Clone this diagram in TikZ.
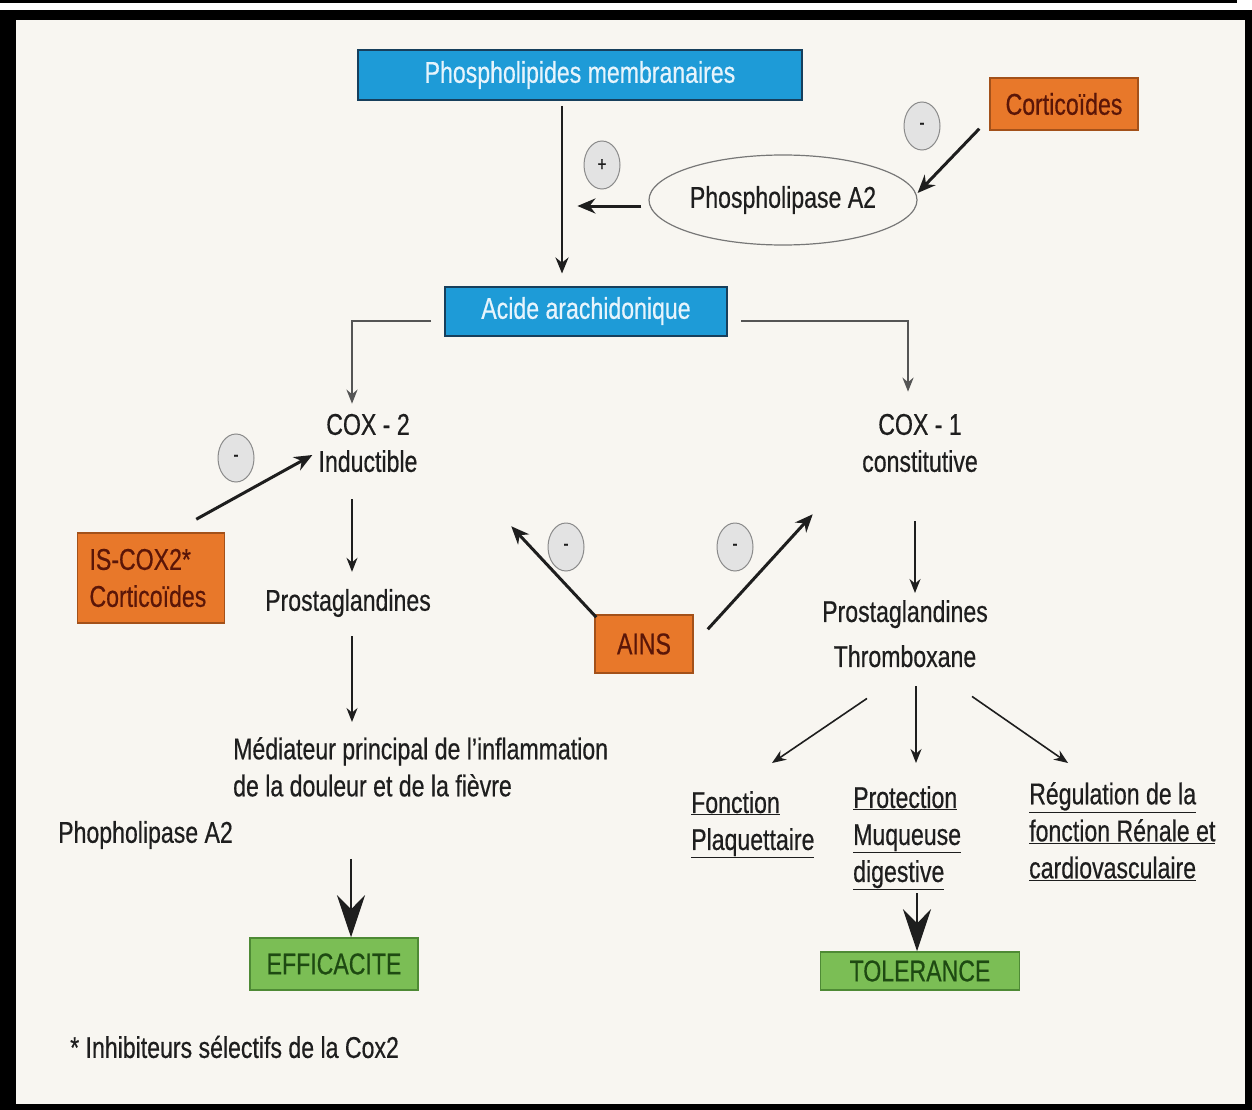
\documentclass[tikz,border=0pt]{standalone}
\usepackage{fontspec}
\setmainfont{Liberation Sans}[FakeStretch=0.77,FakeBold=0.5]
\usetikzlibrary{arrows.meta,shapes.geometric,calc}
\definecolor{bg}{HTML}{F8F6F1}
\definecolor{txtcol}{HTML}{1E1E1E}
\definecolor{blue1}{HTML}{1E9BD7}
\definecolor{bluedark}{HTML}{173F5C}
\definecolor{bluetext}{HTML}{E6F4FC}
\definecolor{or1}{HTML}{E8782A}
\definecolor{orborder}{HTML}{A3511A}
\definecolor{ortext}{HTML}{5A1608}
\definecolor{gr1}{HTML}{7BBE55}
\definecolor{grborder}{HTML}{4E8A35}
\definecolor{grtext}{HTML}{1E4A12}
\definecolor{signfill}{HTML}{E3E3E3}
\definecolor{signborder}{HTML}{8A8A8A}
\definecolor{gray1}{HTML}{555555}
\definecolor{ellgray}{HTML}{777777}
\begin{document}
\begin{tikzpicture}[x=1pt,y=-1pt,
  txt/.style={inner sep=0pt, text=txtcol, font=\fontsize{30}{37}\selectfont},
  boxbase/.style={inner sep=0pt, font=\fontsize{30}{37}\selectfont, line width=1.5pt},
  bluebox/.style={boxbase, draw=bluedark, fill=blue1, text=bluetext, line width=2pt},
  orbox/.style={boxbase, draw=orborder, fill=or1, text=ortext},
  grbox/.style={boxbase, draw=grborder, fill=gr1, text=grtext},
  sign/.style={ellipse, draw=signborder, fill=signfill, line width=1pt, minimum width=36pt, minimum height=48pt, inner sep=0pt, font=\fontsize{20}{20}\selectfont, text=txtcol},
  arr/.style={line width=1.6pt, draw=txtcol, -{Stealth[length=14pt,width=11pt]}},
  garr/.style={line width=2.5pt, draw=gray1, -{Stealth[length=14pt,width=11pt,fill=txtcol]}},
  thickarr/.style={line width=3pt, draw=txtcol, -{Stealth[length=18pt,width=15pt]}},
  vline/.style={line width=2.8pt, draw=txtcol, -{Stealth[length=16pt,width=13pt]}},
  bigarr/.style={line width=2pt, draw=txtcol, -{Stealth[length=42pt,width=28pt,inset=14pt]}}
]
\useasboundingbox (0,0) rectangle (1252,1110);
\fill[black] (0,0) rectangle (1237,3);
\fill[black] (0,10) rectangle (1252,1110);
\fill[bg] (16,20) rectangle (1245,1104);

% nodes
\node[bluebox, minimum width=444pt, minimum height=50pt] (phos) at (580,75) {Phospholipides membranaires};
\node[orbox, minimum width=148pt, minimum height=52pt] (cort) at (1064,104) {Corticoïdes};
\node[ellipse, draw=ellgray, fill=bg, line width=1.2pt, minimum width=268pt, minimum height=90pt, inner sep=0pt, text=txtcol, font=\fontsize{30}{37}\selectfont] (pla2) at (783,200) {Phospholipase A2};
\node[sign] (s1) at (922,126) {-};
\node[sign] (s2) at (602,165) {+};
\node[bluebox, minimum width=282pt, minimum height=49pt] (acide) at (586,311) {Acide arachidonique};
\node[txt, align=center] (cox2) at (368,443) {COX - 2\\Inductible};
\node[txt, align=center] (cox1) at (920,443) {COX - 1\\constitutive};
\node[sign] (s3) at (236,458) {-};
\node[orbox, align=left, text width=123pt, minimum height=90pt, inner xsep=12pt] (iscox) at (151,578) {IS-COX2*\\Corticoïdes};
\node[txt] (pg2) at (348,603) {Prostaglandines};
\node[txt, align=left, anchor=north west] (med) at (233,737) {Médiateur principal de l'inflammation\\de la douleur et de la fièvre};
\node[txt, anchor=west] (phopho) at (58,835) {Phopholipase A2};
\node[orbox, minimum width=98pt, minimum height=58pt] (ains) at (644,644) {AINS};
\node[sign] (s4) at (566,547) {-};
\node[sign] (s5) at (735,547) {-};
\node[txt, align=center, anchor=north] (pg1) at (905,600) {Prostaglandines\\[8pt]Thromboxane};
\node[txt, align=left, anchor=north west] (fonc) at (691,791) {\underline{Fonction}\\\underline{Plaquettaire}};
\node[txt, align=left, anchor=north west] (prot) at (853,786) {\underline{Protection}\\\underline{Muqueuse}\\\underline{digestive}};
\node[txt, align=left, anchor=north west] (regu) at (1029,782) {\underline{Régulation de la}\\\underline{fonction Rénale et}\\\underline{cardiovasculaire}};
\node[grbox, minimum width=168pt, minimum height=52pt] (eff) at (334,964) {EFFICACITE};
\node[grbox, minimum width=199pt, minimum height=38pt] (tol) at (920,971) {TOLERANCE};
\node[txt, anchor=west] (foot) at (70,1047) {* Inhibiteurs sélectifs de la Cox2};

% connectors
\draw[vline, shorten <=5pt] ([xshift=-18pt]phos.south) -- ([xshift=-24pt,yshift=12pt]acide.north);
\draw[thickarr] ([xshift=-7pt,yshift=-6pt]pla2.west) -- ++(-64,0);
\draw[thickarr] ([xshift=-10pt,yshift=2pt]cort.south west) -- ([yshift=7pt]pla2.east);
\draw[garr, shorten <=13pt] ([yshift=-10pt]acide.west) -| ([xshift=-16pt,yshift=10pt]cox2.north);
\draw[garr, shorten <=13pt] ([yshift=-10pt]acide.east) -| ([xshift=-12pt,yshift=22pt]cox1.north);
\draw[arr] ([xshift=-16pt,yshift=-27pt]cox2.south) -- ([xshift=4pt,yshift=17pt]pg2.north);
\draw[arr] ([xshift=4pt,yshift=-19pt]pg2.south) -- ([xshift=119pt,yshift=15pt]med.north west);
\draw[bigarr] ([xshift=118pt,yshift=-62pt]med.south west) -- ([xshift=17pt]eff.north);
\draw[arr] ([xshift=-5pt,yshift=-49pt]cox1.south) -- ([xshift=10pt,yshift=7pt]pg1.north);
\draw[arr] ([xshift=-38pt,yshift=-31pt]pg1.south) -- ([xshift=81pt,yshift=28pt]fonc.north west);
\draw[arr] ([xshift=11pt,yshift=-19pt]pg1.south) -- ([xshift=63pt,yshift=23pt]prot.north west);
\draw[arr] ([xshift=67pt,yshift=-29pt]pg1.south) -- ([xshift=39pt,yshift=19pt]regu.north west);
\draw[bigarr, shorten <=3pt] ([xshift=64pt]prot.south west) -- ([xshift=-3pt]tol.north);
\draw[thickarr] ([xshift=-29pt,yshift=13pt]iscox.north east) -- ([xshift=-6pt,yshift=-12pt]cox2.west);
\draw[thickarr] ([xshift=2pt,yshift=-3pt]ains.north west) -- ++(-85,-91);
\draw[thickarr] ([xshift=14pt,yshift=-15pt]ains.north east) -- ++(105,-115);
\end{tikzpicture}
\end{document}
